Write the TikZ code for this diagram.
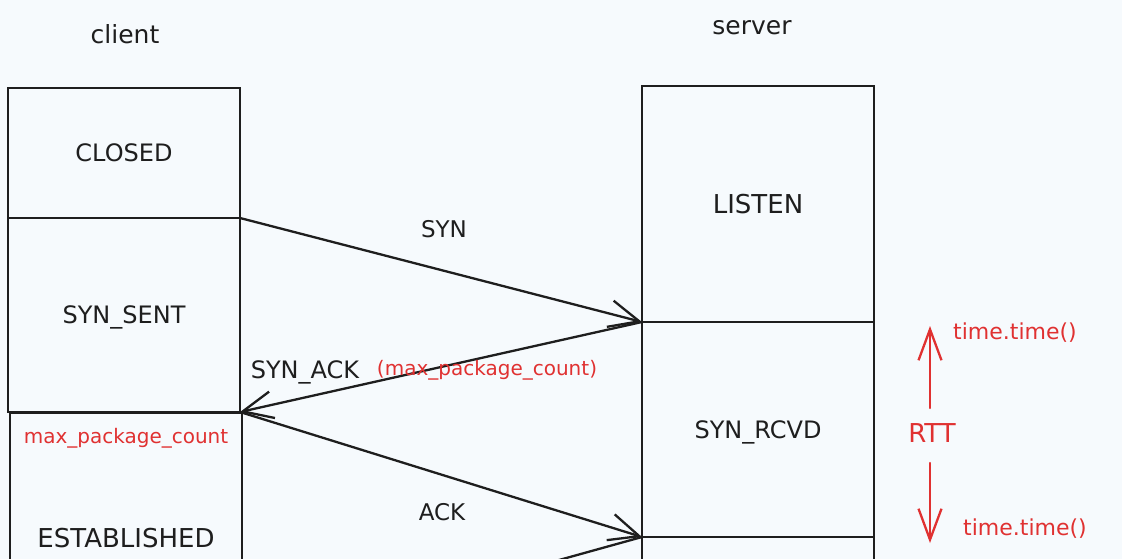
\documentclass[tikz,border=0pt]{standalone}
\usepackage{fontspec}
\setmainfont{DejaVu Sans}
\usetikzlibrary{arrows.meta}
\definecolor{bg}{RGB}{246,250,253}
\definecolor{ink}{RGB}{30,30,30}
\definecolor{accent}{RGB}{224,49,49}
\begin{document}
\begin{tikzpicture}[x=1pt,y=-1pt,
  statebox/.style={draw=ink, line width=2.4pt, inner sep=0pt, outer sep=0pt,
    minimum width=232pt, anchor=north west, text depth=0pt, text=ink,
    font=\fontsize{24}{28}\selectfont},
  lbl/.style={text=ink, inner sep=0pt, anchor=base, font=\fontsize{24}{28}\selectfont},
  note/.style={text=accent, inner sep=0pt, anchor=base, font=\fontsize{20}{24}\selectfont},
  msg/.style={draw=ink, line width=2.3pt, line cap=round,
    -{Straight Barb[length=30pt,width=27pt,line width=2.3pt]}},
  rttarrow/.style={draw=accent, line width=2.3pt, line cap=round,
    -{Straight Barb[length=31pt,width=23pt,line width=2.3pt]}},
]
\useasboundingbox (0,0) rectangle (1122,559);
\clip (0,0) rectangle (1122,559);
\fill[bg] (0,0) rectangle (1122,559);

% titles
\node[lbl, font=\fontsize{25}{29}\selectfont] (clientlbl) at (125,44) {client};
\node[lbl, font=\fontsize{25}{29}\selectfont] (serverlbl) at (752,35) {server};

% client states
\node[statebox, minimum height=130pt] (closed) at (8,88) {CLOSED};
\node[statebox, minimum height=194pt] (synsent) at (8,218) {SYN\_SENT};
\node[statebox, minimum height=250pt, font=\fontsize{26}{30}\selectfont] (established) at (10,413) {ESTABLISHED};

% server states
\node[statebox, minimum height=236pt, font=\fontsize{26}{30}\selectfont] (listen) at (642,86) {LISTEN};
\node[statebox, minimum height=215pt] (synrcvd) at (642,322) {SYN\_RCVD};
\node[statebox, minimum height=120pt] (srvnext) at (642,537) {};

% messages
\draw[msg] (closed.south east) -- (listen.south west);
\draw[msg] (listen.south west) -- (synsent.south east);
\draw[msg] (synsent.south east) -- (synrcvd.south west);
\coordinate (finend) at (242,648);
\draw[msg] (srvnext.north west) -- (finend);

\node[lbl, font=\fontsize{23}{27}\selectfont] (synlbl) at (444,237) {SYN};
\node[lbl] (synacklbl) at (305,378) {SYN\_ACK};
\node[note] (synacknote) at (487,375) {(max\_package\_count)};
\node[lbl, font=\fontsize{23}{27}\selectfont] (acklbl) at (442,520) {ACK};
\node[note] (estnote) at (126,443) {max\_package\_count};

% RTT annotation
\node[note, font=\fontsize{26}{30}\selectfont] (rtt) at (932,442) {RTT};
\node[note, font=\fontsize{22}{26}\selectfont] (tstart) at (1015,339) {time.time()};
\node[note, font=\fontsize{22}{26}\selectfont] (tend) at (1025,535) {time.time()};
\coordinate (upfrom) at (930,408);
\coordinate (upto) at (930,326);
\coordinate (downfrom) at (930,463);
\coordinate (downto) at (930,543);
\draw[rttarrow] (upfrom) -- (upto);
\draw[rttarrow] (downfrom) -- (downto);
\end{tikzpicture}
\end{document}
